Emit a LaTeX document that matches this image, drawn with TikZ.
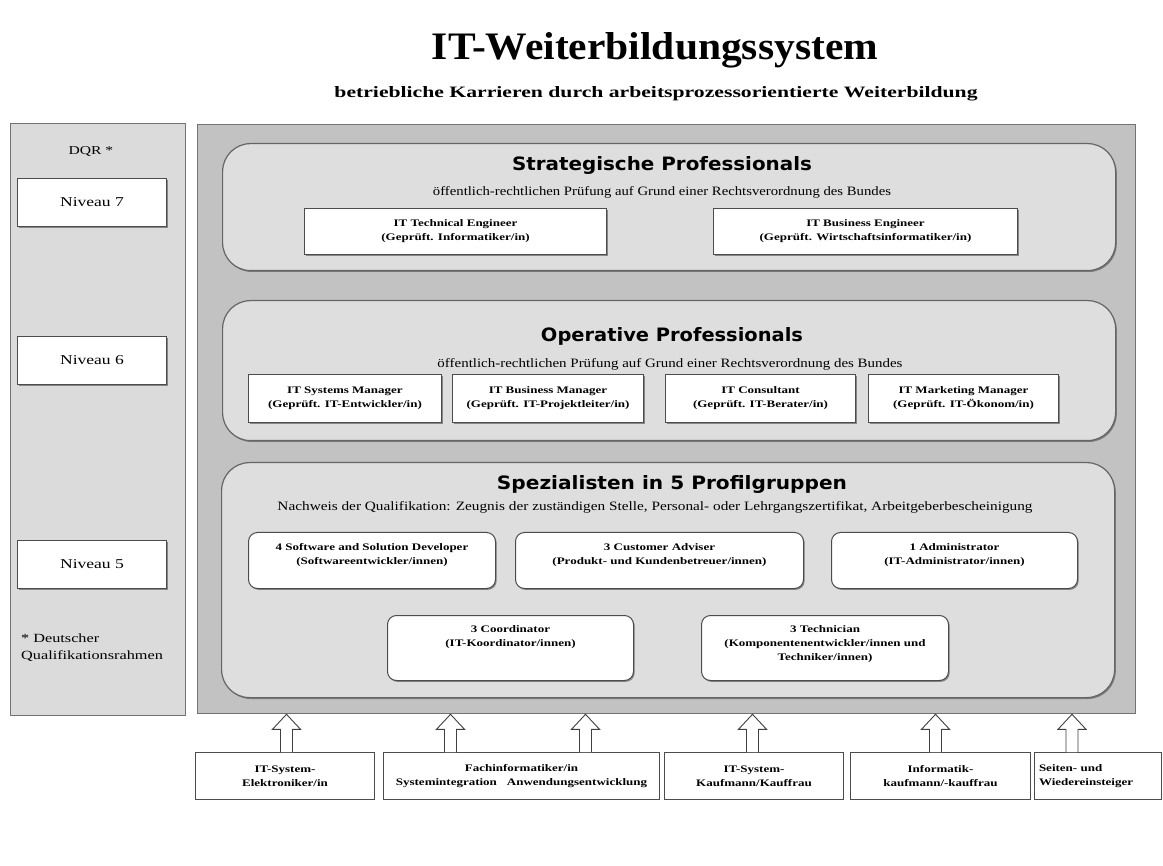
\documentclass[tikz,border=0pt]{standalone}
\usepackage{fontspec}
\usepackage{graphicx}
\setmainfont{Liberation Serif}
\newfontfamily\bxf{Liberation Serif}[FakeStretch=1.3]
\newfontfamily\hdf{DejaVu Sans}
\usetikzlibrary{calc,shadows}
\definecolor{panelgray}{gray}{0.76}
\definecolor{roundgray}{gray}{0.87}
\definecolor{leftgray}{gray}{0.86}
\tikzset{
  sh/.style={drop shadow={shadow xshift=1.2pt,shadow yshift=-1.4pt,opacity=.55,fill=black!75}},
  panel/.style={draw=black!55,line width=1.3pt,fill=panelgray,anchor=north west,inner sep=0pt},
  lpanel/.style={draw=black!55,line width=1.3pt,fill=leftgray,anchor=north west,inner sep=0pt},
  rbox/.style={draw=black!60,line width=1.2pt,fill=roundgray,rounded corners=28pt,anchor=north west,inner sep=0pt,sh},
  wbox/.style={draw=black!70,line width=1pt,fill=white,anchor=north west,inner sep=0pt,align=center,
     font=\bxf\bfseries\fontsize{10}{14}\selectfont,sh},
  sbox/.style={wbox,rounded corners=9pt},
  nbox/.style={wbox,font=\bxf\fontsize{13.5}{16}\selectfont},
  bbox/.style={draw=black!70,line width=1pt,fill=white,anchor=north west,inner sep=0pt,align=center,
     font=\bxf\bfseries\fontsize{10}{14}\selectfont},
  btext/.style={align=center,inner sep=0pt,font=\bxf\bfseries\fontsize{10}{14}\selectfont},
  arr/.style={draw=black!75,line width=0.9pt,fill=white,line join=miter},
}
\newcommand\uparr[2]{\draw[arr] let \p1=(#1), \p2=(#2) in
  (\x1-6pt,\y1) -- (\x1-6pt,\y2-15pt) -- (\x1-14pt,\y2-15pt) -- (\x1,\y2)
  -- (\x1+14pt,\y2-15pt) -- (\x1+6pt,\y2-15pt) -- (\x1+6pt,\y1);}
\begin{document}
\begin{tikzpicture}[x=1pt,y=-1pt]
\useasboundingbox[fill=white] (0,0) rectangle (1163,866);
% titles
\node[anchor=base] (title) at (655,60) {\resizebox{446pt}{27pt}{\bfseries IT-Weiterbildungssystem}};
\node[anchor=base] (subtitle) at (656,98) {\resizebox{643pt}{11pt}{\bfseries betriebliche Karrieren durch arbeitsprozessorientierte Weiterbildung}};
% left panel
\node[lpanel,minimum width=175pt,minimum height=592pt] (left) at (10,123) {};
\node[anchor=base,font=\bxf\fontsize{12}{14}\selectfont] (dqr) at (91,155) {DQR *};
\node[nbox,minimum width=149pt,minimum height=48pt] (n7) at (17,178) {Niveau 7};
\node[nbox,minimum width=149pt,minimum height=48pt] (n6) at (17,336) {Niveau 6};
\node[nbox,minimum width=149pt,minimum height=48pt] (n5) at (17,540) {Niveau 5};
\node[anchor=north west,align=left,inner sep=0pt,font=\bxf\fontsize{12.5}{17}\selectfont] (foot) at (21,634) {* Deutscher\\Qualifikationsrahmen};
% main panel
\node[panel,minimum width=938pt,minimum height=589pt] (main) at (197,124) {};
% strategic
\node[rbox,minimum width=893pt,minimum height=127pt] (strat) at (222,143) {};
\node[anchor=base] (strattitle) at (662,171) {\resizebox{300pt}{14pt}{\hdf\bfseries Strategische Professionals}};
\node[anchor=base] (stratsub) at (662,196) {\resizebox{458pt}{9pt}{öffentlich-rechtlichen Prüfung auf Grund einer Rechtsverordnung des Bundes}};
\node[wbox,minimum width=302pt,minimum height=46pt] (st1) at (304,208) {IT Technical Engineer\\(Geprüft. Informatiker/in)};
\node[wbox,minimum width=304pt,minimum height=46pt] (st2) at (713,208) {IT Business Engineer\\(Geprüft. Wirtschaftsinformatiker/in)};
% operative
\node[rbox,minimum width=893pt,minimum height=140pt] (oper) at (222,300) {};
\node[anchor=base] (opertitle) at (672,342) {\resizebox{262pt}{14pt}{\hdf\bfseries Operative Professionals}};
\node[anchor=base] (opersub) at (670,368) {\resizebox{465pt}{9pt}{öffentlich-rechtlichen Prüfung auf Grund einer Rechtsverordnung des Bundes}};
\node[wbox,minimum width=193pt,minimum height=48pt] (op1) at (248,374) {IT Systems Manager\\(Geprüft. IT-Entwickler/in)};
\node[wbox,minimum width=191pt,minimum height=48pt] (op2) at (452,374) {IT Business Manager\\(Geprüft. IT-Projektleiter/in)};
\node[wbox,minimum width=190pt,minimum height=48pt] (op3) at (665,374) {IT Consultant\\(Geprüft. IT-Berater/in)};
\node[wbox,minimum width=190pt,minimum height=48pt] (op4) at (868,374) {IT Marketing Manager\\(Geprüft. IT-Ökonom/in)};
% specialists
\node[rbox,minimum width=893pt,minimum height=235pt] (spez) at (221,462) {};
\node[anchor=base] (speztitle) at (672,490) {\resizebox{350pt}{14pt}{\hdf\bfseries Spezialisten in 5 Profilgruppen}};
\node[anchor=base] (spezsub) at (655,511) {\resizebox{755pt}{9pt}{Nachweis der Qualifikation: Zeugnis der zuständigen Stelle, Personal- oder Lehrgangszertifikat, Arbeitgeberbescheinigung}};
\node[sbox,minimum width=247pt,minimum height=56pt] (sp1) at (248,532) {};
\node[btext,anchor=north] at ([yshift=-11pt]sp1.north) {4 Software and Solution Developer\\(Softwareentwickler/innen)};
\node[sbox,minimum width=288pt,minimum height=56pt] (sp2) at (515,532) {};
\node[btext,anchor=north] at ([yshift=-11pt]sp2.north) {3 Customer Adviser\\(Produkt- und Kundenbetreuer/innen)};
\node[sbox,minimum width=246pt,minimum height=56pt] (sp3) at (831,532) {};
\node[btext,anchor=north] at ([yshift=-11pt]sp3.north) {1 Administrator\\(IT-Administrator/innen)};
\node[sbox,minimum width=246pt,minimum height=65pt] (sp4) at (387,615) {};
\node[btext,anchor=north] at ([yshift=-10pt]sp4.north) {3 Coordinator\\(IT-Koordinator/innen)};
\node[sbox,minimum width=247pt,minimum height=65pt] (sp5) at (701,615) {};
\node[btext,anchor=north] at ([yshift=-10pt]sp5.north) {3 Technician\\(Komponentenentwickler/innen und\\Techniker/innen)};
% bottom boxes
\node[bbox,minimum width=179pt,minimum height=47pt] (b1) at (195,752) {IT-System-\\Elektroniker/in};
\node[bbox,minimum width=276pt,minimum height=47pt] (b2) at (383,752) {Fachinformatiker/in\\Systemintegration\quad Anwendungsentwicklung};
\node[bbox,minimum width=179pt,minimum height=47pt] (b3) at (664,752) {IT-System-\\Kaufmann/Kauffrau};
\node[bbox,minimum width=180pt,minimum height=47pt] (b4) at (850,752) {Informatik-\\kaufmann/-kauffrau};
\node[bbox,minimum width=127pt,minimum height=47pt,align=left,text width=118pt] (b5) at (1034,752) {Seiten- und\\Wiedereinsteiger};
% arrows
\uparr{[xshift=1.5pt]b1.north}{main.south}
\uparr{[xshift=-71pt]b2.north}{main.south}
\uparr{[xshift=64pt]b2.north}{main.south}
\uparr{[xshift=-1.5pt]b3.north}{main.south}
\uparr{[xshift=-5pt]b4.north}{main.south}
\uparr{[xshift=-26pt]b5.north}{main.south}
\end{tikzpicture}
\end{document}
